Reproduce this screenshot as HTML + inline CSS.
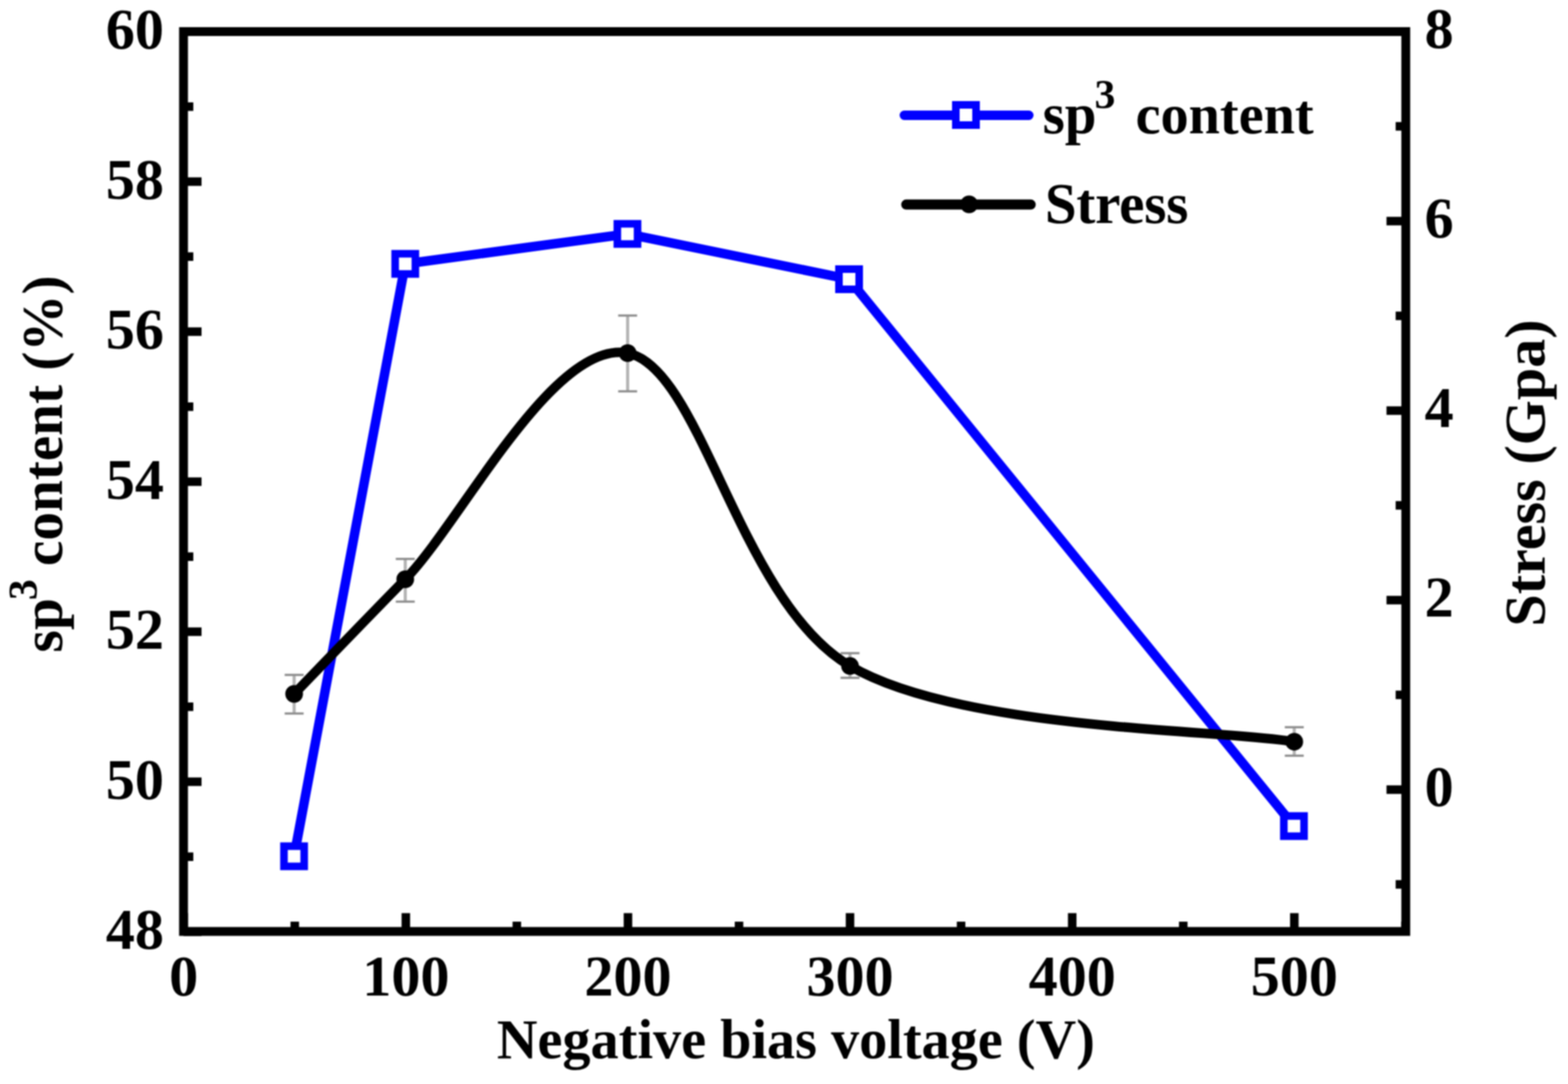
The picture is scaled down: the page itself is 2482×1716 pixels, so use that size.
<!DOCTYPE html>
<html><head><meta charset="utf-8"><title>sp3 content and stress vs negative bias voltage</title>
<style>html,body{margin:0;padding:0;background:#fff;}svg{display:block;filter:blur(1px);}</style></head>
<body>
<svg width="2482" height="1716" viewBox="0 0 2482 1716"><rect x="0" y="0" width="2482" height="1716" fill="#fff"/>
<polyline points="465.5,1355.5 641.5,417.7 993.2,370.3 1344.0,442.0 2048.2,1307.7" fill="none" stroke="#0000ff" stroke-width="15" stroke-linejoin="miter" stroke-miterlimit="10"/>
<rect x="449.5" y="1339.5" width="32" height="32" fill="#fff" stroke="#0000ff" stroke-width="12"/>
<rect x="625.5" y="401.7" width="32" height="32" fill="#fff" stroke="#0000ff" stroke-width="12"/>
<rect x="977.2" y="354.3" width="32" height="32" fill="#fff" stroke="#0000ff" stroke-width="12"/>
<rect x="1328.0" y="426.0" width="32" height="32" fill="#fff" stroke="#0000ff" stroke-width="12"/>
<rect x="2032.2" y="1291.7" width="32" height="32" fill="#fff" stroke="#0000ff" stroke-width="12"/>
<line x1="465.6" y1="1068.4" x2="465.6" y2="1129.5" stroke="#b4b4b4" stroke-width="5"/>
<line x1="450.6" y1="1068.4" x2="480.6" y2="1068.4" stroke="#8c8c8c" stroke-width="3.5"/>
<line x1="450.6" y1="1129.5" x2="480.6" y2="1129.5" stroke="#8c8c8c" stroke-width="3.5"/>
<line x1="641.5" y1="884.8" x2="641.5" y2="952.4" stroke="#b4b4b4" stroke-width="5"/>
<line x1="626.5" y1="884.8" x2="656.5" y2="884.8" stroke="#8c8c8c" stroke-width="3.5"/>
<line x1="626.5" y1="952.4" x2="656.5" y2="952.4" stroke="#8c8c8c" stroke-width="3.5"/>
<line x1="993.5" y1="499.5" x2="993.5" y2="619.5" stroke="#b4b4b4" stroke-width="5"/>
<line x1="978.5" y1="499.5" x2="1008.5" y2="499.5" stroke="#8c8c8c" stroke-width="3.5"/>
<line x1="978.5" y1="619.5" x2="1008.5" y2="619.5" stroke="#8c8c8c" stroke-width="3.5"/>
<line x1="1345.5" y1="1034" x2="1345.5" y2="1073" stroke="#b4b4b4" stroke-width="5"/>
<line x1="1330.5" y1="1034" x2="1360.5" y2="1034" stroke="#8c8c8c" stroke-width="3.5"/>
<line x1="1330.5" y1="1073" x2="1360.5" y2="1073" stroke="#8c8c8c" stroke-width="3.5"/>
<line x1="2048.7" y1="1151.2" x2="2048.7" y2="1196.3" stroke="#b4b4b4" stroke-width="5"/>
<line x1="2033.6999999999998" y1="1151.2" x2="2063.7" y2="1151.2" stroke="#8c8c8c" stroke-width="3.5"/>
<line x1="2033.6999999999998" y1="1196.3" x2="2063.7" y2="1196.3" stroke="#8c8c8c" stroke-width="3.5"/>
<path d="M465.6,1098.5 C494.9,1068.2 553.5,1006.9 641.5,917.0 C729.5,827.1 876.2,536.1 993.5,559.0 C1110.8,581.9 1169.6,951.8 1345.5,1054.3 C1521.4,1156.8 1931.5,1154.2 2048.7,1174.2" fill="none" stroke="#000" stroke-width="15" stroke-linejoin="round"/>
<circle cx="465.6" cy="1098.5" r="14" fill="#000"/>
<circle cx="641.5" cy="917.0" r="14" fill="#000"/>
<circle cx="993.5" cy="559.0" r="14" fill="#000"/>
<circle cx="1345.5" cy="1054.3" r="14" fill="#000"/>
<circle cx="2048.7" cy="1174.2" r="14" fill="#000"/>
<rect x="290.5" y="50.0" width="1934.7" height="1424.5" fill="none" stroke="#000" stroke-width="14"/>
<line x1="290.5" y1="1475.0" x2="319.0" y2="1475.0" stroke="#000" stroke-width="13.5"/>
<line x1="290.5" y1="1356.2" x2="306.0" y2="1356.2" stroke="#000" stroke-width="13.5"/>
<line x1="290.5" y1="1237.5" x2="319.0" y2="1237.5" stroke="#000" stroke-width="13.5"/>
<line x1="290.5" y1="1118.8" x2="306.0" y2="1118.8" stroke="#000" stroke-width="13.5"/>
<line x1="290.5" y1="1000.0" x2="319.0" y2="1000.0" stroke="#000" stroke-width="13.5"/>
<line x1="290.5" y1="881.2" x2="306.0" y2="881.2" stroke="#000" stroke-width="13.5"/>
<line x1="290.5" y1="762.5" x2="319.0" y2="762.5" stroke="#000" stroke-width="13.5"/>
<line x1="290.5" y1="643.8" x2="306.0" y2="643.8" stroke="#000" stroke-width="13.5"/>
<line x1="290.5" y1="525.0" x2="319.0" y2="525.0" stroke="#000" stroke-width="13.5"/>
<line x1="290.5" y1="406.2" x2="306.0" y2="406.2" stroke="#000" stroke-width="13.5"/>
<line x1="290.5" y1="287.5" x2="319.0" y2="287.5" stroke="#000" stroke-width="13.5"/>
<line x1="290.5" y1="168.8" x2="306.0" y2="168.8" stroke="#000" stroke-width="13.5"/>
<line x1="290.5" y1="50.0" x2="319.0" y2="50.0" stroke="#000" stroke-width="13.5"/>
<line x1="2225.2" y1="1400.0" x2="2209.2" y2="1400.0" stroke="#000" stroke-width="13.5"/>
<line x1="2225.2" y1="1250.0" x2="2194.7" y2="1250.0" stroke="#000" stroke-width="13.5"/>
<line x1="2225.2" y1="1100.0" x2="2209.2" y2="1100.0" stroke="#000" stroke-width="13.5"/>
<line x1="2225.2" y1="950.0" x2="2194.7" y2="950.0" stroke="#000" stroke-width="13.5"/>
<line x1="2225.2" y1="800.0" x2="2209.2" y2="800.0" stroke="#000" stroke-width="13.5"/>
<line x1="2225.2" y1="650.0" x2="2194.7" y2="650.0" stroke="#000" stroke-width="13.5"/>
<line x1="2225.2" y1="500.0" x2="2209.2" y2="500.0" stroke="#000" stroke-width="13.5"/>
<line x1="2225.2" y1="350.0" x2="2194.7" y2="350.0" stroke="#000" stroke-width="13.5"/>
<line x1="2225.2" y1="200.0" x2="2209.2" y2="200.0" stroke="#000" stroke-width="13.5"/>
<line x1="2225.2" y1="50.0" x2="2194.7" y2="50.0" stroke="#000" stroke-width="13.5"/>
<line x1="290.8" y1="1474.5" x2="290.8" y2="1445.5" stroke="#000" stroke-width="13.5"/>
<line x1="466.6" y1="1474.5" x2="466.6" y2="1459.0" stroke="#000" stroke-width="13.5"/>
<line x1="642.4" y1="1474.5" x2="642.4" y2="1445.5" stroke="#000" stroke-width="13.5"/>
<line x1="818.1" y1="1474.5" x2="818.1" y2="1459.0" stroke="#000" stroke-width="13.5"/>
<line x1="994.0" y1="1474.5" x2="994.0" y2="1445.5" stroke="#000" stroke-width="13.5"/>
<line x1="1169.8" y1="1474.5" x2="1169.8" y2="1459.0" stroke="#000" stroke-width="13.5"/>
<line x1="1345.5" y1="1474.5" x2="1345.5" y2="1445.5" stroke="#000" stroke-width="13.5"/>
<line x1="1521.3" y1="1474.5" x2="1521.3" y2="1459.0" stroke="#000" stroke-width="13.5"/>
<line x1="1697.2" y1="1474.5" x2="1697.2" y2="1445.5" stroke="#000" stroke-width="13.5"/>
<line x1="1873.0" y1="1474.5" x2="1873.0" y2="1459.0" stroke="#000" stroke-width="13.5"/>
<line x1="2048.8" y1="1474.5" x2="2048.8" y2="1445.5" stroke="#000" stroke-width="13.5"/>
<line x1="2224.6" y1="1474.5" x2="2224.6" y2="1459.0" stroke="#000" stroke-width="13.5"/>
<text x="259.5" y="1502.0" font-size="92" text-anchor="end" font-family="Liberation Serif, 'Times New Roman', serif" font-weight="bold">48</text>
<text x="259.5" y="1264.5" font-size="92" text-anchor="end" font-family="Liberation Serif, 'Times New Roman', serif" font-weight="bold">50</text>
<text x="259.5" y="1027.0" font-size="92" text-anchor="end" font-family="Liberation Serif, 'Times New Roman', serif" font-weight="bold">52</text>
<text x="259.5" y="789.5" font-size="92" text-anchor="end" font-family="Liberation Serif, 'Times New Roman', serif" font-weight="bold">54</text>
<text x="259.5" y="552.0" font-size="92" text-anchor="end" font-family="Liberation Serif, 'Times New Roman', serif" font-weight="bold">56</text>
<text x="259.5" y="314.5" font-size="92" text-anchor="end" font-family="Liberation Serif, 'Times New Roman', serif" font-weight="bold">58</text>
<text x="259.5" y="77.0" font-size="92" text-anchor="end" font-family="Liberation Serif, 'Times New Roman', serif" font-weight="bold">60</text>
<text x="2255" y="1276.0" font-size="92" font-family="Liberation Serif, 'Times New Roman', serif" font-weight="bold">0</text>
<text x="2255" y="976.0" font-size="92" font-family="Liberation Serif, 'Times New Roman', serif" font-weight="bold">2</text>
<text x="2255" y="676.0" font-size="92" font-family="Liberation Serif, 'Times New Roman', serif" font-weight="bold">4</text>
<text x="2255" y="376.0" font-size="92" font-family="Liberation Serif, 'Times New Roman', serif" font-weight="bold">6</text>
<text x="2255" y="76.0" font-size="92" font-family="Liberation Serif, 'Times New Roman', serif" font-weight="bold">8</text>
<text x="290.8" y="1576" font-size="92" text-anchor="middle" font-family="Liberation Serif, 'Times New Roman', serif" font-weight="bold">0</text>
<text x="642.4" y="1576" font-size="92" text-anchor="middle" font-family="Liberation Serif, 'Times New Roman', serif" font-weight="bold">100</text>
<text x="994.0" y="1576" font-size="92" text-anchor="middle" font-family="Liberation Serif, 'Times New Roman', serif" font-weight="bold">200</text>
<text x="1345.5" y="1576" font-size="92" text-anchor="middle" font-family="Liberation Serif, 'Times New Roman', serif" font-weight="bold">300</text>
<text x="1697.2" y="1576" font-size="92" text-anchor="middle" font-family="Liberation Serif, 'Times New Roman', serif" font-weight="bold">400</text>
<text x="2048.8" y="1576" font-size="92" text-anchor="middle" font-family="Liberation Serif, 'Times New Roman', serif" font-weight="bold">500</text>
<text x="786.5" y="1675" font-size="89" font-family="Liberation Serif, 'Times New Roman', serif" font-weight="bold">Negative bias voltage (V)</text>
<g transform="translate(98,1033) rotate(-90)"><text x="0" y="0" font-size="91" font-family="Liberation Serif, 'Times New Roman', serif" font-weight="bold">sp</text><text x="83" y="-40" font-size="66" font-family="Liberation Serif, 'Times New Roman', serif" font-weight="bold">3</text><text x="137" y="0" font-size="90.5" font-family="Liberation Serif, 'Times New Roman', serif" font-weight="bold">content (%)</text></g>
<g transform="translate(2445,992) rotate(-90)"><text x="0" y="0" font-size="92" font-family="Liberation Serif, 'Times New Roman', serif" font-weight="bold">Stress (Gpa)</text></g>
<line x1="1431.5" y1="182.5" x2="1628.5" y2="182.5" stroke="#0000ff" stroke-width="15" stroke-linecap="round"/>
<rect x="1513" y="166" width="32" height="32" fill="#fff" stroke="#0000ff" stroke-width="12"/>
<text x="1650.5" y="211" font-size="90" font-family="Liberation Serif, 'Times New Roman', serif" font-weight="bold">sp</text>
<text x="1732.5" y="171" font-size="66" font-family="Liberation Serif, 'Times New Roman', serif" font-weight="bold">3</text>
<text x="1797.5" y="211" font-size="89" font-family="Liberation Serif, 'Times New Roman', serif" font-weight="bold">content</text>
<line x1="1434.5" y1="323.8" x2="1631.5" y2="323.8" stroke="#000" stroke-width="16" stroke-linecap="round"/>
<circle cx="1534" cy="323.5" r="14" fill="#000"/>
<text x="1654" y="353" font-size="90.3" letter-spacing="-0.4" font-family="Liberation Serif, 'Times New Roman', serif" font-weight="bold">Stress</text></svg>
</body></html>
